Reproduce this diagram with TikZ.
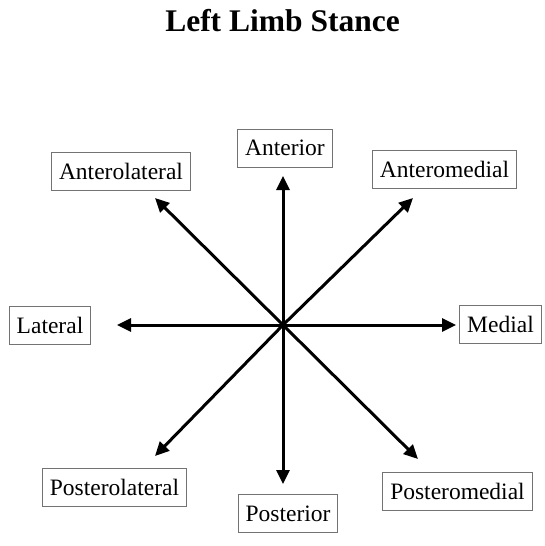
\documentclass[tikz,border=0pt]{standalone}
\usepackage{fontspec}
\setmainfont{Liberation Serif}
\usetikzlibrary{arrows.meta}
\begin{document}
\begin{tikzpicture}[x=1pt,y=-1pt,>={Triangle[length=14pt,width=13pt]},
  lbl/.style={draw=black!55,line width=1pt,minimum height=38pt,inner xsep=7.5pt,font=\fontsize{23.5}{26}\selectfont},
  ray/.style={->,line width=3pt}]
  \useasboundingbox (0,0) rectangle (545,546);
  \node[anchor=base,font=\bfseries\fontsize{31.5}{36}\selectfont] (title) at (282.5,31) {Left Limb Stance};
  \coordinate (c) at (283,325);
  % one box and one ray per direction
  \foreach \n/\x/\y/\t/\tx/\ty in {ant/285/148/Anterior/283/176,
      antmed/444.5/169/Anteromedial/413/198,
      antlat/121/171/Anterolateral/155/198,
      lat/50/325/Lateral/117/325,
      med/500.5/324/Medial/456/325,
      postlat/114.5/487.5/Posterolateral/155/456,
      post/288/513.5/Posterior/283/484,
      postmed/457.5/491.5/Posteromedial/418/459}{
    \node[lbl] (\n) at (\x,\y) {\t};
    \coordinate (\n tip) at (\tx,\ty);
    \draw[ray] (c) -- (\n tip);
  }
\end{tikzpicture}
\end{document}
